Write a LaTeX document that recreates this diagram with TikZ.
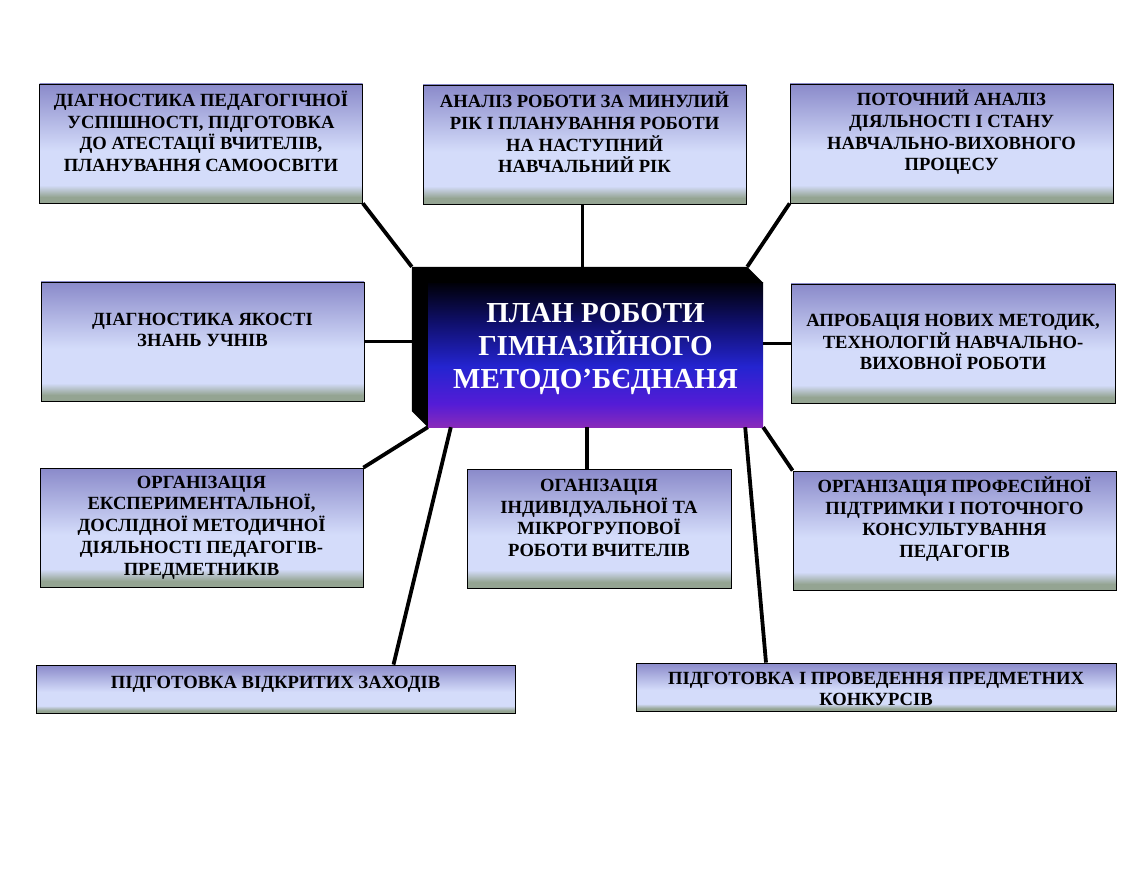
\documentclass[tikz,border=0pt]{standalone}
\usepackage{fontspec}
\setmainfont{Liberation Serif}
\usepackage{xcolor}
\usetikzlibrary{positioning,calc}
\definecolor{boxTop}{RGB}{138,138,202}
\definecolor{boxLight}{RGB}{212,220,250}
\definecolor{boxGreen}{RGB}{148,164,146}
\definecolor{planTop}{RGB}{0,0,8}
\definecolor{planNavy}{RGB}{16,16,110}
\definecolor{planBlue}{RGB}{36,36,208}
\definecolor{planViolet}{RGB}{84,28,214}
\definecolor{planBot}{RGB}{136,42,186}
% path covers 25bp--75bp of the shading
\pgfdeclareverticalshading{boxShade}{100bp}{color(0bp)=(boxGreen); color(25bp)=(boxGreen); color(27.5bp)=(boxGreen); color(32.5bp)=(boxLight); color(47bp)=(boxLight); color(75bp)=(boxTop); color(100bp)=(boxTop)}
\pgfdeclareverticalshading{planShade}{100bp}{color(0bp)=(planBot); color(25bp)=(planBot); color(33bp)=(planViolet); color(46bp)=(planBlue); color(61bp)=(planNavy); color(75bp)=(planTop); color(100bp)=(planTop)}
\tikzset{
  planBox/.style={
    rectangle,
    draw=black,
    line width=0.8pt,
    shading=boxShade,
    minimum width=323pt,
    minimum height=119pt,
    inner sep=0pt
  },
  wideBox/.style={
    planBox,
    minimum width=480pt,
    minimum height=48pt
  },
  boxText/.style={
    font=\bfseries\fontsize{18.6}{21.7}\selectfont,
    align=center,
    inner sep=0pt
  },
  mainBox/.style={
    rectangle,
    shading=planShade,
    minimum width=335pt,
    minimum height=144pt,
    inner sep=0pt
  },
  mainText/.style={
    font=\bfseries\fontsize{29}{33.3}\selectfont,
    text=white,
    align=center,
    inner sep=0pt
  },
  linkLine/.style={
    line width=3.8pt,
    black
  }
}
\begin{document}
\begin{tikzpicture}[x=1pt,y=-1pt]
        \useasboundingbox (0,0) rectangle (1140,882);

        % centre
        \node[mainBox] (plan) at (595.5,355) {};
        \coordinate (bevelNW) at ([shift={(-16,-16)}]plan.north west);
        \coordinate (bevelNE) at ([shift={(-16,-16)}]plan.north east);
        \coordinate (bevelSW) at ([shift={(-16,-16)}]plan.south west);
        \fill[black] (bevelNW) -- (bevelNE) -- (plan.north east) -- (plan.north west) -- (plan.south west) -- (bevelSW) -- cycle;
        \node[mainText, yshift=6pt] (planT) at (plan.center) {ПЛАН РОБОТИ\\ГІМНАЗІЙНОГО\\МЕТОДО’БЄДНАНЯ};

        % top row
        \node[planBox] (diag) at (201,143.5) {};
        \node[boxText, yshift=12pt] (diagT) at (diag.center) {ДІАГНОСТИКА ПЕДАГОГІЧНОЇ\\УСПІШНОСТІ,  ПІДГОТОВКА\\ДО АТЕСТАЦІЇ ВЧИТЕЛІВ,\\ПЛАНУВАННЯ САМООСВІТИ};
        \node[planBox] (anal) at (584.5,144.5) {};
        \node[boxText, yshift=12pt] (analT) at (anal.center) {АНАЛІЗ РОБОТИ ЗА МИНУЛИЙ\\РІК І ПЛАНУВАННЯ РОБОТИ\\НА НАСТУПНИЙ\\НАВЧАЛЬНИЙ РІК};
        \node[planBox] (potoch) at (951.5,143.5) {};
        \node[boxText, yshift=11pt] (potochT) at (potoch.center) {ПОТОЧНИЙ АНАЛІЗ\\ДІЯЛЬНОСТІ І СТАНУ\\НАВЧАЛЬНО-ВИХОВНОГО\\ПРОЦЕСУ};

        % middle row
        \node[planBox] (yakist) at (202.5,341.5) {};
        \node[boxText, yshift=11.5pt] (yakistT) at (yakist.center) {ДІАГНОСТИКА ЯКОСТІ\\ЗНАНЬ УЧНІВ};
        \node[planBox, minimum width=324pt] (aprob) at (953,343.5) {};
        \node[boxText, yshift=1.5pt] (aprobT) at (aprob.center) {АПРОБАЦІЯ НОВИХ МЕТОДИК,\\ТЕХНОЛОГІЙ НАВЧАЛЬНО-\\ВИХОВНОЇ РОБОТИ};

        % bottom row
        \node[planBox] (eksper) at (201.5,527.5) {};
        \node[boxText] (eksperT) at (eksper.center) {ОРГАНІЗАЦІЯ\\ЕКСПЕРИМЕНТАЛЬНОЇ,\\ДОСЛІДНОЇ МЕТОДИЧНОЇ\\ДІЯЛЬНОСТІ ПЕДАГОГІВ-\\ПРЕДМЕТНИКІВ};
        \node[planBox, minimum width=264pt] (indiv) at (599,528.5) {};
        \node[boxText, yshift=10.5pt] (indivT) at (indiv.center) {ОГАНІЗАЦІЯ\\ІНДИВІДУАЛЬНОЇ ТА\\МІКРОГРУПОВОЇ\\РОБОТИ ВЧИТЕЛІВ};
        \node[planBox] (prof) at (954.5,530.5) {};
        \node[boxText, yshift=11.5pt] (profT) at (prof.center) {ОРГАНІЗАЦІЯ ПРОФЕСІЙНОЇ\\ПІДТРИМКИ І ПОТОЧНОГО\\КОНСУЛЬТУВАННЯ\\ПЕДАГОГІВ};

        % long boxes
        \node[wideBox, minimum width=479pt] (vidkr) at (275.5,689) {};
        \node[boxText, yshift=5pt] (vidkrT) at (vidkr.center) {ПІДГОТОВКА ВІДКРИТИХ ЗАХОДІВ};
        \node[wideBox] (konk) at (876,687) {};
        \node[boxText, yshift=-2pt] (konkT) at (konk.center) {ПІДГОТОВКА І ПРОВЕДЕННЯ ПРЕДМЕТНИХ\\КОНКУРСІВ};

        % links
        \draw[linkLine] (diag.south east) -- (bevelNW);
        \draw[linkLine] ([xshift=-2pt]anal.south) -- ([xshift=-2pt]anal.south |- bevelNW);
        \draw[linkLine] (potoch.south west) -- (bevelNE);
        \draw[linkLine] (yakist.east) -- (yakist.east -| bevelNW);
        \draw[linkLine] (aprob.west) -- (aprob.west -| plan.east);
        \draw[linkLine] (eksper.north east) -- (plan.south west);
        \draw[linkLine] ([xshift=118pt]vidkr.north) -- ([xshift=23pt]plan.south west);
        \draw[linkLine] ([xshift=-12pt]indiv.north) -- ([xshift=-12pt]indiv.north |- plan.south);
        \draw[linkLine] ([xshift=-110pt]konk.north) -- ([xshift=-18pt]plan.south east);
        \draw[linkLine] (prof.north west) -- (plan.south east);
    \end{tikzpicture}
\end{document}
